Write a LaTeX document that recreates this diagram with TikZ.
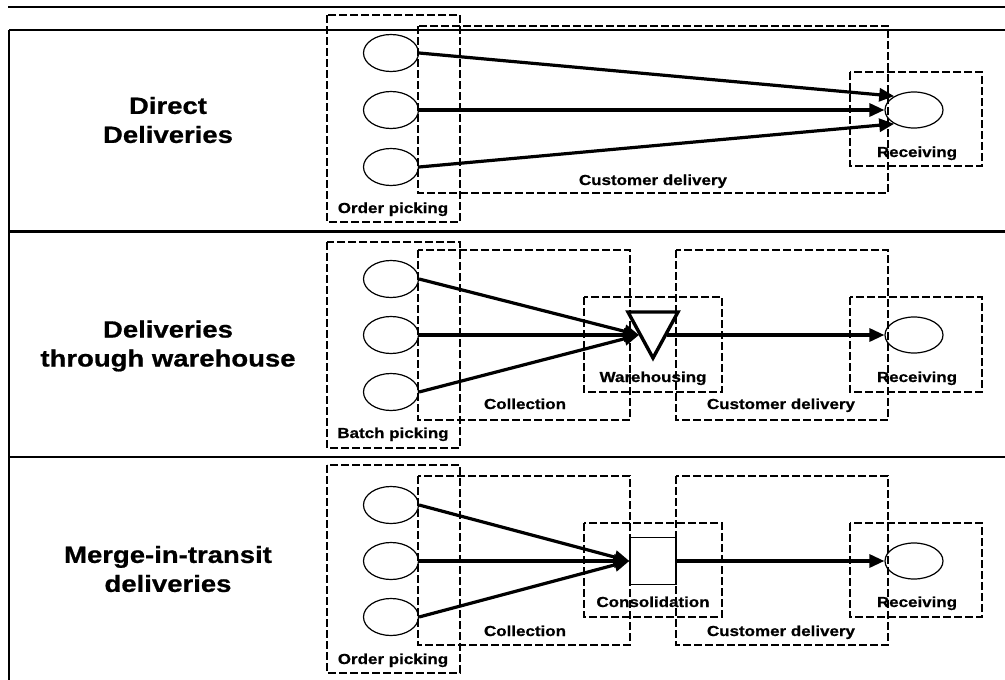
\documentclass[tikz,border=0pt]{standalone}
\usepackage{fontspec}
\usetikzlibrary{shapes.geometric,arrows.meta}
\newfontfamily\lblfont[FakeStretch=1.17,FakeBold=0.8]{Liberation Sans Bold}
\begin{document}
\begin{tikzpicture}[x=1pt,y=-1pt,
  zone/.style={line width=2.6pt, dash pattern=on 8pt off 3pt},
  src/.style={ellipse, draw, line width=1.2pt, minimum width=55pt, minimum height=37pt, inner sep=0pt},
  rcv/.style={src, minimum width=58pt, minimum height=36pt},
  flow/.style={line width=3.2pt, -{Triangle[length=15pt,width=13pt]}},
  lbl/.style={font=\lblfont\fontsize{14.5}{16}\selectfont, inner sep=0pt, anchor=base},
  ttl/.style={font=\lblfont\fontsize{23.5}{29}\selectfont, align=center, inner sep=0pt}]
\useasboundingbox (0,0) rectangle (1005,680);
\fill[white] (0,0) rectangle (1005,680);

% outer frame and panel separators
\draw[line width=2.6pt] (8,7) -- (1005,7);
\draw[line width=2pt] (9,30) -- (1005,30);
\draw[line width=3pt] (9,231) -- (1005,231);
\draw[line width=2.6pt] (9,457) -- (1005,457);
\draw[line width=2.6pt] (9,30) -- (9,680);

% ---------- Direct deliveries ----------
\node[ttl] (t1) at (168,120) {Direct\\Deliveries};
\draw[zone] (327,15) rectangle (460,222);
\draw[zone] (418,26) rectangle (888,193);
\draw[zone] (850,72) rectangle (982,166);
\node[src] (p1a) at (391,53) {};
\node[src] (p1b) at (391,110) {};
\node[src] (p1c) at (391,167) {};
\node[rcv] (r1) at (914,110) {};
\draw[flow] (p1a.east) -- (r1.145);
\draw[flow] (p1b.east) -- (r1.west);
\draw[flow] (p1c.east) -- (r1.215);
\node[lbl] (l1a) at (393,213) {Order picking};
\node[lbl] (l1b) at (653,185) {Customer delivery};
\node[lbl] (l1c) at (917,157) {Receiving};

% ---------- Deliveries through warehouse ----------
\node[ttl] (t2) at (168,346) {Deliveries\\through warehouse};
\draw[zone] (327,242) rectangle (460,448);
\draw[zone] (418,250) rectangle (630,420);
\draw[zone] (584,297) rectangle (722,392);
\draw[zone] (676,250) rectangle (888,420);
\draw[zone] (850,297) rectangle (982,392);
\node[src] (p2a) at (391,279) {};
\node[src] (p2b) at (391,335) {};
\node[src] (p2c) at (391,392) {};
\node[rcv] (r2) at (914,335) {};
% warehouse symbol (inverted triangle)
\coordinate (whl) at (628,312);
\coordinate (whr) at (678,312);
\coordinate (wha) at (653,358);
\draw[line width=3.4pt, line join=miter] (whl) -- (whr) -- (wha) -- cycle;
\coordinate (whin) at (639,335);
\coordinate (whout) at (667,335);
\draw[flow] (p2a.east) -- (whin);
\draw[flow] (p2b.east) -- (whin);
\draw[flow] (p2c.east) -- (whin);
\draw[flow] (whout) -- (r2.west);
\node[lbl] (l2a) at (393,438) {Batch picking};
\node[lbl] (l2b) at (525,409) {Collection};
\node[lbl] (l2c) at (653,382) {Warehousing};
\node[lbl] (l2d) at (781,409) {Customer delivery};
\node[lbl] (l2e) at (917,382) {Receiving};

% ---------- Merge-in-transit deliveries ----------
\node[ttl] (t3) at (168,569) {Merge-in-transit\\deliveries};
\draw[zone] (327,465) rectangle (460,673);
\draw[zone] (418,476) rectangle (630,645);
\draw[zone] (584,523) rectangle (722,617);
\draw[zone] (676,476) rectangle (888,645);
\draw[zone] (850,523) rectangle (982,617);
\node[src] (p3a) at (391,505) {};
\node[src] (p3b) at (391,561) {};
\node[src] (p3c) at (391,617) {};
\node[rcv] (r3) at (914,561) {};
\node[draw, line width=1.3pt, minimum width=46pt, minimum height=47pt, inner sep=0pt] (cons) at (653,561) {};
\draw[flow] (p3a.east) -- (cons.west);
\draw[flow] (p3b.east) -- (cons.west);
\draw[flow] (p3c.east) -- (cons.west);
\draw[flow] (cons.east) -- (r3.west);
\node[lbl] (l3a) at (393,664) {Order picking};
\node[lbl] (l3b) at (525,636) {Collection};
\node[lbl] (l3c) at (653,607) {Consolidation};
\node[lbl] (l3d) at (781,636) {Customer delivery};
\node[lbl] (l3e) at (917,607) {Receiving};
\end{tikzpicture}
\end{document}
